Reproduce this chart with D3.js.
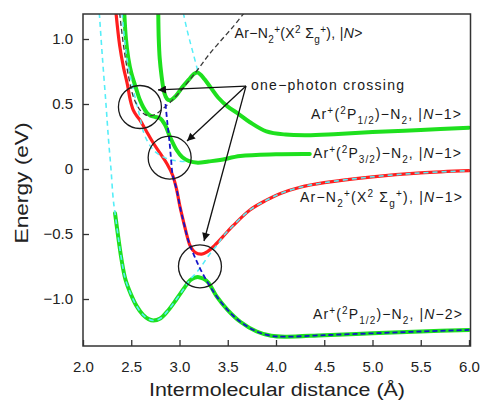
<!DOCTYPE html>
<html><head><meta charset="utf-8">
<script src="https://cdn.jsdelivr.net/npm/d3@7"></script>
<style>body{margin:0;background:#fff}svg{display:block}</style>
</head><body><svg id="c" width="481" height="401"></svg>
<script>
// ---------- data (r in Å, E in eV) ----------
const xTicks = [2.0, 2.5, 3.0, 3.5, 4.0, 4.5, 5.0, 5.5, 6.0];
const yTicks = [-1.0, -0.5, 0, 0.5, 1.0];

// adiabatic curves
const greenLower = [[2.332,-0.34],[2.37,-0.55],[2.40,-0.70],[2.44,-0.85],[2.50,-0.97],[2.556,-1.055],[2.62,-1.12],[2.68,-1.155],[2.73,-1.165],[2.80,-1.15],[2.88,-1.09],[2.97,-1.0],[3.05,-0.915],[3.11,-0.855],[3.16,-0.835],[3.20,-0.832],[3.25,-0.845],[3.30,-0.875],[3.385,-0.98],[3.50,-1.085],[3.63,-1.175],[3.80,-1.25],[3.95,-1.283],[4.10,-1.29],[4.50,-1.278],[5.00,-1.264],[5.50,-1.25],[6.00,-1.238]];
const redUpper = [[2.342,1.20],[2.38,0.95],[2.42,0.78],[2.46,0.65],[2.49,0.53],[2.52,0.455],[2.555,0.41],[2.59,0.377],[2.65,0.30],[2.73,0.198],[2.80,0.12],[2.87,0.04],[2.93,-0.05],[2.971,-0.16],[3.005,-0.29],[3.04,-0.40],[3.08,-0.52],[3.11,-0.59],[3.16,-0.64],[3.23,-0.655],[3.29,-0.635],[3.35,-0.598],[3.45,-0.52],[3.55,-0.44],[3.73,-0.315],[3.90,-0.24],[4.04,-0.19],[4.25,-0.14],[4.50,-0.105],[5.00,-0.06],[5.50,-0.03],[6.00,-0.013]];
const greenUpper = [[2.78,1.20],[2.785,1.0],[2.795,0.85],[2.815,0.71],[2.835,0.61],[2.855,0.56],[2.88,0.532],[2.91,0.53],[2.96,0.56],[3.03,0.63],[3.109,0.698],[3.15,0.732],[3.185,0.742],[3.22,0.725],[3.26,0.69],[3.32,0.63],[3.40,0.55],[3.50,0.48],[3.60,0.43],[3.73,0.36],[3.90,0.29],[4.10,0.265],[4.32,0.26],[4.60,0.268],[5.00,0.285],[5.50,0.30],[6.00,0.318]];
const greenMid = [[2.428,1.20],[2.445,1.0],[2.47,0.85],[2.50,0.74],[2.55,0.62],[2.59,0.53],[2.625,0.475],[2.66,0.435],[2.70,0.41],[2.75,0.40],[2.80,0.39],[2.85,0.34],[2.90,0.25],[2.97,0.146],[3.03,0.09],[3.10,0.06],[3.19,0.049],[3.30,0.058],[3.42,0.069],[3.63,0.10],[4.00,0.113],[4.35,0.115]];

// diabatic curves
const cyanWall = [[2.169,1.20],[2.20,0.87],[2.238,0.5],[2.265,0.22],[2.29,0.0],[2.314,-0.238]];
const cyanCross = [[3.11,-0.85],[3.16,-0.81],[3.212,-0.764],[3.27,-0.70],[3.333,-0.636],[3.40,-0.575]];
const cyanMid = [[2.405,1.20],[2.43,1.0],[2.46,0.83],[2.50,0.68],[2.55,0.52],[2.59,0.40],[2.62,0.30],[2.67,0.21],[2.73,0.146],[2.80,0.105],[2.87,0.08],[2.97,0.062],[3.10,0.056]];
const cyanUpper = [[3.04,1.20],[3.075,1.08],[3.109,0.98],[3.145,0.88],[3.178,0.787],[3.19,0.75]];
const blueSteep = [[2.855,0.50],[2.875,0.35],[2.895,0.22],[2.912,0.08],[2.93,-0.05],[2.971,-0.16],[3.005,-0.29],[3.04,-0.40],[3.08,-0.52],[3.11,-0.59],[3.16,-0.68],[3.212,-0.764],[3.29,-0.87],[3.385,-0.98]];
const blackN = [[2.38,1.20],[2.42,0.95],[2.47,0.72],[2.52,0.56],[2.58,0.465],[2.64,0.42],[2.70,0.408],[2.76,0.425],[2.82,0.46],[2.90,0.51],[3.0,0.59],[3.1,0.68],[3.212,0.787],[3.30,0.875],[3.42,0.98],[3.55,1.09],[3.67,1.20]];

// annotations
const circleCenters = [[2.59,0.477],[2.898,0.088],[3.212,-0.749]];
const arrowApex = [3.689,0.638];
const arrowTips = [[2.777,0.608],[3.078,0.215],[3.254,-0.554]];

const labels = [
  {pos:[3.57,1.008], anchor:"start", len:128, parts:[["Ar−N",""],["2","sub"],["+","sup"],["(X",""],["2","sup"],[" Σ",""],["g","sub"],["+","sup"],["), |",""],["N","it"],[">",""]]},
  {pos:[3.741,0.608], anchor:"start", len:153, parts:[["one−photon crossing",""]]},
  {pos:[5.917,0.385], anchor:"end", len:150, parts:[["Ar",""],["+","sup"],["(",""],["2","sup"],["P",""],["1/2","sub"],[")−N",""],["2","sub"],[", |",""],["N","it"],["−1>",""]]},
  {pos:[5.917,0.085], anchor:"end", len:148, parts:[["Ar",""],["+","sup"],["(",""],["2","sup"],["P",""],["3/2","sub"],[")−N",""],["2","sub"],[", |",""],["N","it"],["−1>",""]]},
  {pos:[5.927,-0.254], anchor:"end", len:162, parts:[["Ar−N",""],["2","sub"],["+","sup"],["(X",""],["2","sup"],[" Σ",""],["g","sub"],["+","sup"],["), |",""],["N","it"],["−1>",""]]},
  {pos:[5.927,-1.154], anchor:"end", len:149, parts:[["Ar",""],["+","sup"],["(",""],["2","sup"],["P",""],["1/2","sub"],[")−N",""],["2","sub"],[", |",""],["N","it"],["−2>",""]]}
];

// ---------- drawing ----------
const svg = d3.select("#c");
const FONT = "'Liberation Sans', Arial, sans-serif";
const x = d3.scaleLinear().domain([2, 6]).range([83, 469]);
const y = d3.scaleLinear().domain([-1.3615, 1.1923]).range([346, 14]);
const L = 83, T = 14, R = 470.5, B = 346;

const defs = svg.append("defs");
defs.append("clipPath").attr("id","clip")
  .append("rect").attr("x",L).attr("y",T).attr("width",R-L).attr("height",B-T);
defs.append("marker").attr("id","ah").attr("viewBox","0 0 10 10")
  .attr("refX",10).attr("refY",5).attr("markerWidth",10).attr("markerHeight",8)
  .attr("markerUnits","userSpaceOnUse").attr("orient","auto")
  .append("path").attr("d","M0,0L10,5L0,10z").attr("fill","#111");

const line = d3.line().x(d=>x(d[0])).y(d=>y(d[1])).curve(d3.curveCatmullRom.alpha(0.5));
const plot = svg.append("g").attr("clip-path","url(#clip)");

function draw(data, color, width, dash){
  const p = plot.append("path").attr("d", line(data)).attr("fill","none")
    .attr("stroke", color).attr("stroke-width", width)
    .attr("stroke-linejoin","round").attr("stroke-linecap", dash ? "butt" : "round");
  if (dash) p.attr("stroke-dasharray", dash);
}

const GREEN = "#1ee01e", RED = "#ff1e1e", CYAN = "#55eef8", BLUE = "#1515c8";

// adiabatic (solid)
draw(greenLower, GREEN, 4);
draw(greenUpper, GREEN, 4);
draw(greenMid, GREEN, 4);
draw(redUpper, RED, 3.2);

// diabatic (dashed)
const cyanLower = cyanWall.concat(greenLower.filter(d=>d[0]<=3.05), cyanCross, redUpper.filter(d=>d[0]>=3.45));
draw(cyanLower, CYAN, 1.6, "5,4");
draw(cyanMid, CYAN, 1.5, "5,4");
draw(cyanUpper, CYAN, 1.5, "5,4");
draw(blackN, "#3a3a3a", 1.3, "5,3");
const blueLine = blueSteep.concat(greenLower.filter(d=>d[0]>=3.5));
draw(blueLine, BLUE, 1.8, "5,3");

// circles
plot.selectAll("circle.ring").data(circleCenters).enter().append("circle")
  .attr("cx",d=>x(d[0])).attr("cy",d=>y(d[1])).attr("r",21.5)
  .attr("fill","none").attr("stroke","#1a1a1a").attr("stroke-width",1.3);

// arrows
svg.selectAll("line.arr").data(arrowTips).enter().append("line")
  .attr("x1",x(arrowApex[0])).attr("y1",y(arrowApex[1]))
  .attr("x2",d=>x(d[0])).attr("y2",d=>y(d[1]))
  .attr("stroke","#111").attr("stroke-width",1.3).attr("marker-end","url(#ah)");

// frame
svg.append("rect").attr("x",L).attr("y",T).attr("width",R-L).attr("height",B-T)
  .attr("fill","none").attr("stroke","#333").attr("stroke-width",1.5);

// axes
const fmtY = d => d === 0 ? "0" : d3.format(".1f")(d);
const gx = svg.append("g").attr("transform",`translate(0,${B})`)
  .call(d3.axisBottom(x).tickValues(xTicks).tickFormat(d3.format(".1f")).tickSizeInner(-6).tickSizeOuter(0).tickPadding(15));
const gy = svg.append("g").attr("transform",`translate(${L},0)`)
  .call(d3.axisLeft(y).tickValues(yTicks).tickFormat(fmtY).tickSizeInner(-6).tickSizeOuter(0).tickPadding(10));
[gx, gy].forEach(g=>{
  g.select(".domain").remove();
  g.selectAll(".tick line").attr("stroke","#333").attr("stroke-width",1.3);
  g.selectAll(".tick text").attr("fill","#222").style("font-family",FONT).style("font-size","15px");
});

// axis titles
svg.append("text").attr("x",277).attr("y",396).attr("text-anchor","middle")
  .attr("textLength",256).attr("lengthAdjust","spacingAndGlyphs")
  .style("font-family",FONT).style("font-size","18px").attr("fill","#222")
  .text("Intermolecular distance (Å)");
svg.append("text").attr("transform","translate(28,183) rotate(-90)").attr("text-anchor","middle")
  .attr("textLength",121).attr("lengthAdjust","spacingAndGlyphs")
  .style("font-family",FONT).style("font-size","19px").attr("fill","#222")
  .text("Energy (eV)");

// labels
labels.forEach(lb=>{
  const t = svg.append("text").attr("x",x(lb.pos[0])).attr("y",y(lb.pos[1]))
    .attr("text-anchor",lb.anchor).attr("fill","#1a1a1a")
    .style("font-family",FONT).style("font-size","14px")
    .attr("textLength",lb.len).attr("lengthAdjust","spacing");
  let cur = 0;
  lb.parts.forEach(([s,k])=>{
    let target = 0, fs = 14;
    if (k==="sub"){ target = 5; fs = 10; }
    if (k==="sup"){ target = -5; fs = 10; }
    const ts = t.append("tspan").attr("dy", target-cur).style("font-size", fs+"px").text(s);
    if (k==="it") ts.style("font-style","italic");
    cur = target;
  });
});
</script>
</body></html>
